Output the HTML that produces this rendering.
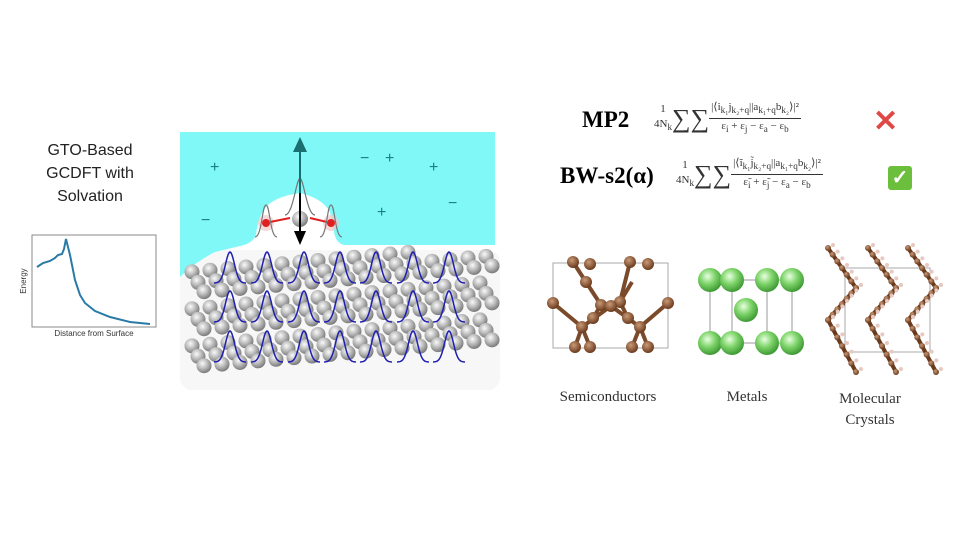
<!DOCTYPE html>
<html><head><meta charset="utf-8">
<style>
body{margin:0;background:#fff;width:960px;height:540px;overflow:hidden;position:relative;font-family:"Liberation Sans",sans-serif}
.t{position:absolute;white-space:nowrap}
.serif{font-family:"Liberation Serif",serif}
.fr{display:inline-block;vertical-align:middle;text-align:center}
</style></head>
<body>
<div class="t" style="left:20px;top:139px;width:140px;text-align:center;font-size:16px;line-height:23px;color:#222">GTO-Based<br>GCDFT with<br>Solvation</div>

<svg id="main" width="960" height="540" style="position:absolute;left:0;top:0">
<defs>
<radialGradient id="grey" cx="40%" cy="35%" r="65%"><stop offset="0" stop-color="#fafafa"/><stop offset="0.5" stop-color="#bdbdbd"/><stop offset="1" stop-color="#7a7a7a"/></radialGradient>
<radialGradient id="green" cx="40%" cy="35%" r="65%"><stop offset="0" stop-color="#e8ffe0"/><stop offset="0.5" stop-color="#7ed46a"/><stop offset="1" stop-color="#3f9a35"/></radialGradient>
<radialGradient id="brown" cx="40%" cy="35%" r="65%"><stop offset="0" stop-color="#c99a78"/><stop offset="1" stop-color="#6a3a1c"/></radialGradient>
</defs>
<g>
<rect x="32" y="235" width="124" height="92" fill="#fff" stroke="#888" stroke-width="1"/>
<path id="ecurve" fill="none" stroke="#2a7aa8" stroke-width="2"/>
<text x="26" y="281" transform="rotate(-90 26 281)" text-anchor="middle" font-size="8" fill="#333">Energy</text>
<text x="94" y="336" text-anchor="middle" font-size="8" fill="#333">Distance from Surface</text>
</g>
<g>
<rect x="180" y="250" width="320" height="140" fill="#f7f7f7" rx="12"/>
<path d="M180,132 L495,132 L495,245 L345,245 Q336,244 334,232 L330,212 Q322,198 300,193 Q278,196 268,205 Q258,215 256,235 Q252,244 240,246 L215,252 Q195,262 180,277 Z" fill="#80f8f8"/>
<g id="atoms"></g>
<g id="gauss"></g>
<g font-size="16" fill="#1a8080">
<text x="210" y="172">+</text><text x="385" y="163">+</text><text x="377" y="217">+</text>
<text x="201" y="225">−</text><text x="360" y="163">−</text><text x="448" y="208">−</text><text x="429" y="172">+</text>
</g>
<circle cx="300" cy="219" r="8" fill="url(#grey)"/>
<circle cx="266" cy="223" r="8" fill="#f4c8c8" opacity="0.7"/><circle cx="266" cy="223" r="4" fill="#e02020"/>
<circle cx="331" cy="223" r="8" fill="#f4c8c8" opacity="0.7"/><circle cx="331" cy="223" r="4" fill="#e02020"/>
<line x1="270" y1="222" x2="290" y2="218" stroke="#e02020" stroke-width="2"/><line x1="327" y1="222" x2="310" y2="218" stroke="#e02020" stroke-width="2"/>
<path d="M255,237 C262,237 262,205 266,205 C270,205 270,237 277,237 M320,237 C327,237 327,205 331,205 C335,205 335,237 342,237 M285,215 C293,215 296,180 300,178 C304,180 307,215 315,215" fill="none" stroke="#777" stroke-width="1.2"/>
<line x1="300" y1="210" x2="300" y2="148" stroke="#1a7070" stroke-width="2"/>
<polygon points="293,152 300,137 307,152" fill="#1a7070"/>
<line x1="300" y1="193" x2="300" y2="233" stroke="#000" stroke-width="2"/>
<polygon points="294,231 300,245 306,231" fill="#000"/>
</g>
<g id="crys"></g>
</svg>

<div class="t serif" style="left:582px;top:107px;font-size:23px;font-weight:bold">MP2</div>
<div class="t serif" style="left:654px;top:100px;font-size:11px;line-height:15px;color:#333"><span class="fr">1<br>4N<sub>k</sub></span><span style="font-size:26px;vertical-align:middle">∑∑</span><span class="fr"><span style="border-bottom:1px solid #333;display:inline-block;padding:0 2px">|⟨i<sub>k₁</sub>j<sub>k₂+q</sub>||a<sub>k₁+q</sub>b<sub>k₂</sub>⟩|²</span><br>ε<sub>i</sub> + ε<sub>j</sub> − ε<sub>a</sub> − ε<sub>b</sub></span></div>
<div class="t" style="left:873px;top:104px;font-size:30px;color:#e04848;font-weight:bold">✕</div>
<div class="t serif" style="left:560px;top:163px;font-size:23px;font-weight:bold">BW-s2(α)</div>
<div class="t serif" style="left:676px;top:156px;font-size:11px;line-height:15px;color:#333"><span class="fr">1<br>4N<sub>k</sub></span><span style="font-size:26px;vertical-align:middle">∑∑</span><span class="fr"><span style="border-bottom:1px solid #333;display:inline-block;padding:0 2px">|⟨ĩ<sub>k₁</sub>j̃<sub>k₂+q</sub>||a<sub>k₁+q</sub>b<sub>k₂</sub>⟩|²</span><br>ε̃<sub>i</sub> + ε̃<sub>j</sub> − ε<sub>a</sub> − ε<sub>b</sub></span></div>
<div class="t" style="left:888px;top:166px;width:24px;height:24px;background:#6cbf3c;border-radius:3px;color:#fff;font-size:20px;line-height:24px;text-align:center;font-weight:bold">✓</div>

<div class="t serif" style="left:548px;top:389px;width:120px;text-align:center;font-size:15px;color:#333">Semiconductors</div>
<div class="t serif" style="left:700px;top:389px;width:94px;text-align:center;font-size:15px;color:#333">Metals</div>
<div class="t serif" style="left:820px;top:389px;width:100px;text-align:center;font-size:15px;line-height:21px;color:#333">Molecular<br>Crystals</div>

<script>
const distance = [0, 6, 13, 18, 21, 25, 27, 29, 33, 38, 43, 48, 58, 73, 93, 113];
const energy = [60, 64, 66, 69, 72, 73, 78, 88, 72, 47, 32, 24, 16, 10, 5, 3];
const xS = d => 37 + d * 1.0;
const yS = e => 327 - e;
document.getElementById('ecurve').setAttribute('d', distance.map((d,i)=>(i?'L':'M')+xS(d)+','+yS(energy[i])).join(' '));

const NS='http://www.w3.org/2000/svg';
function mk(tag, attrs, parent){const e=document.createElementNS(NS,tag);for(const k in attrs)e.setAttribute(k,attrs[k]);parent.appendChild(e);return e;}
const atoms=document.getElementById('atoms');
const rowY=[272,283,293,309,320,330,346,357,367];
rowY.forEach((y0,li)=>{
  const off=(li%3)*6;
  for(let x=192+off;x<495;x+=18){
    const y=y0-0.09*(x-190);
    if(y<252||y>372) continue;
    const c=mk('circle',{cx:x,cy:y,r:7.5,fill:'url(#grey)'},atoms);
    
    
  }
});
const g=document.getElementById('gauss');
const cols=[230,267,304,340,376,413,449], bases=[283,322,362];
bases.forEach(b=>cols.forEach(cx=>{
  let d='';for(let t=-16;t<=16;t+=1){d+=(t==-16?'M':'L')+(cx+t)+','+(b-31*Math.exp(-(t*t)/(2*20)));}
  const p=mk('path',{d:d,fill:'none',stroke:'#2020b0','stroke-width':1.5},g);
  
  
}));
const cr=document.getElementById('crys');
mk('rect',{x:553,y:263,width:115,height:85,fill:'none',stroke:'#aaa'},cr);
const sb=[[586,282,601,305],[601,305,620,302],[620,302,632,282],[620,302,628,318],[601,305,593,318],[553,303,582,327],[582,327,611,306],[611,306,640,327],[640,327,668,303],[582,327,575,347],[582,327,590,347],[640,327,632,347],[640,327,648,347],[573,262,586,282],[630,262,620,302]];
sb.forEach(l=>mk('line',{x1:l[0],y1:l[1],x2:l[2],y2:l[3],stroke:'#7a4a2a','stroke-width':4},cr));
[[573,262],[590,264],[630,262],[648,264],[601,305],[620,302],[593,318],[628,318],[611,306],[553,303],[668,303],[582,327],[640,327],[575,347],[590,347],[632,347],[648,347],[586,282]].forEach(p=>mk('circle',{cx:p[0],cy:p[1],r:6,fill:'url(#brown)'},cr));
mk('rect',{x:710,y:280,width:57,height:63,fill:'none',stroke:'#999'},cr);
mk('rect',{x:732,y:280,width:60,height:63,fill:'none',stroke:'#999'},cr);
[[710,280],[732,280],[767,280],[792,280],[746,310],[710,343],[732,343],[767,343],[792,343]].forEach(p=>mk('circle',{cx:p[0],cy:p[1],r:12,fill:'url(#green)'},cr));
mk('rect',{x:845,y:268,width:85,height:84,fill:'none',stroke:'#aaa'},cr);
[838,878,918].forEach(cx=>{
  const pts=[[cx-10,248],[cx+18,288],[cx-10,320],[cx+18,372]];
  for(let i=0;i<3;i++){mk('line',{x1:pts[i][0],y1:pts[i][1],x2:pts[i+1][0],y2:pts[i+1][1],stroke:'#6a3a1c','stroke-width':4},cr);}
  for(let i=0;i<3;i++){for(let k=0;k<=6;k++){const x=pts[i][0]+(pts[i+1][0]-pts[i][0])*k/6,y=pts[i][1]+(pts[i+1][1]-pts[i][1])*k/6;mk('circle',{cx:x,cy:y,r:3,fill:'url(#brown)'},cr);mk('circle',{cx:x+5,cy:y-3,r:2,fill:'#e8c8c0'},cr);}}
});
</script>
</body></html>
